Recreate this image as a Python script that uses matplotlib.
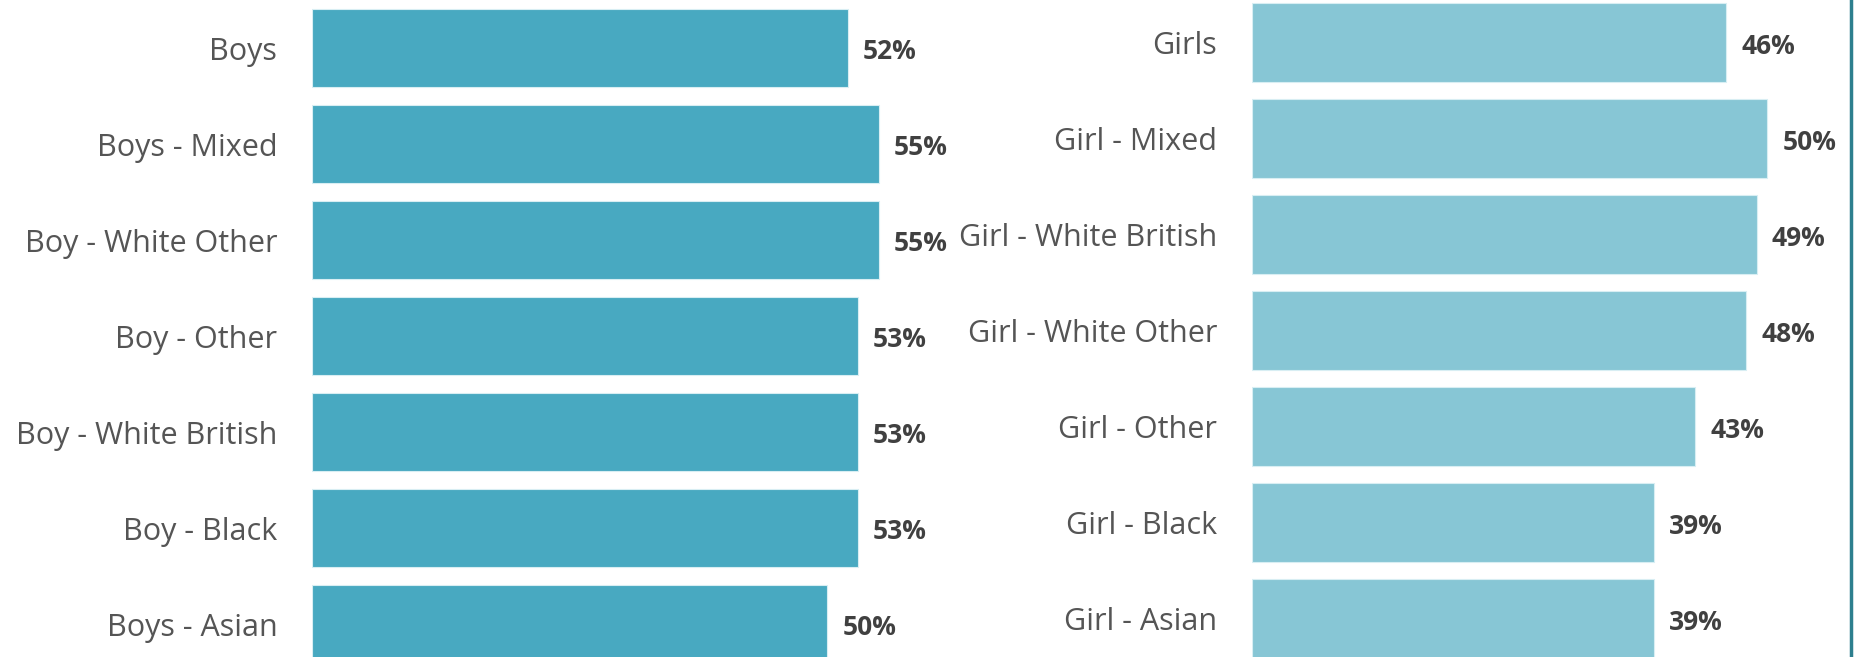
import matplotlib

matplotlib.use("Agg")
import matplotlib.pyplot as plt
from matplotlib.lines import Line2D
from matplotlib.transforms import ScaledTranslation

boys_cats = ["Boys", "Boys - Mixed", "Boy - White Other", "Boy - Other",
             "Boy - White British", "Boy - Black", "Boys - Asian"]
boys_vals = [52, 55, 55, 53, 53, 53, 50]

girls_cats = ["Girls", "Girl - Mixed", "Girl - White British", "Girl - White Other",
              "Girl - Other", "Girl - Black", "Girl - Asian"]
girls_vals = [46, 50, 49, 48, 43, 39, 39]

BOY_COLOR = "#48a9c1"
GIRL_COLOR = "#87c6d5"
CAT_COLOR = "#555555"
VAL_COLOR = "#404040"
FONT = ["Open Sans", "DejaVu Sans"]

W, H = 1854, 657
fig = plt.figure(figsize=(W / 100, H / 100), dpi=100)

XMAX = 58
PX_PER_UNIT = 10.3


def panel(x0_px, first_center_px, cats, vals, color):
    width_px = XMAX * PX_PER_UNIT
    ax = fig.add_axes([x0_px / W, 0, width_px / W, 1])
    pos = list(range(len(cats)))
    ax.barh(pos, vals, height=0.818, color=color, edgecolor="#d8eef3", linewidth=0.8)
    pitch = 96
    ax.set_ylim((H - first_center_px) / pitch, -first_center_px / pitch)
    ax.set_xlim(0, XMAX)
    ax.set_yticks(pos)
    ax.set_yticklabels(cats, fontsize=22, color=CAT_COLOR, family=FONT)
    # nudge category labels up a touch, as in the original
    lift = ScaledTranslation(0, 2.5 / 72, fig.dpi_scale_trans)
    for t in ax.get_yticklabels():
        t.set_transform(t.get_transform() + lift)
    ax.tick_params(axis="y", length=0, pad=25)
    ax.set_xticks([])
    for s in ax.spines.values():
        s.set_visible(False)
    for p, v in zip(pos, vals):
        ax.annotate(f"{v}%", (v, p), xytext=(11, -2.5), textcoords="offset points",
                    ha="left", va="center", fontsize=19, fontweight="bold",
                    color=VAL_COLOR, family=FONT)
    return ax


panel(312, 48.2, boys_cats, boys_vals, BOY_COLOR)
panel(1252, 42.7, girls_cats, girls_vals, GIRL_COLOR)

# thin dark border on the right edge
fig.add_artist(Line2D([0.9985, 0.9985], [0, 1], transform=fig.transFigure,
                      color="#2d7f8e", linewidth=2.5))

fig.savefig("out.png", dpi=100)
